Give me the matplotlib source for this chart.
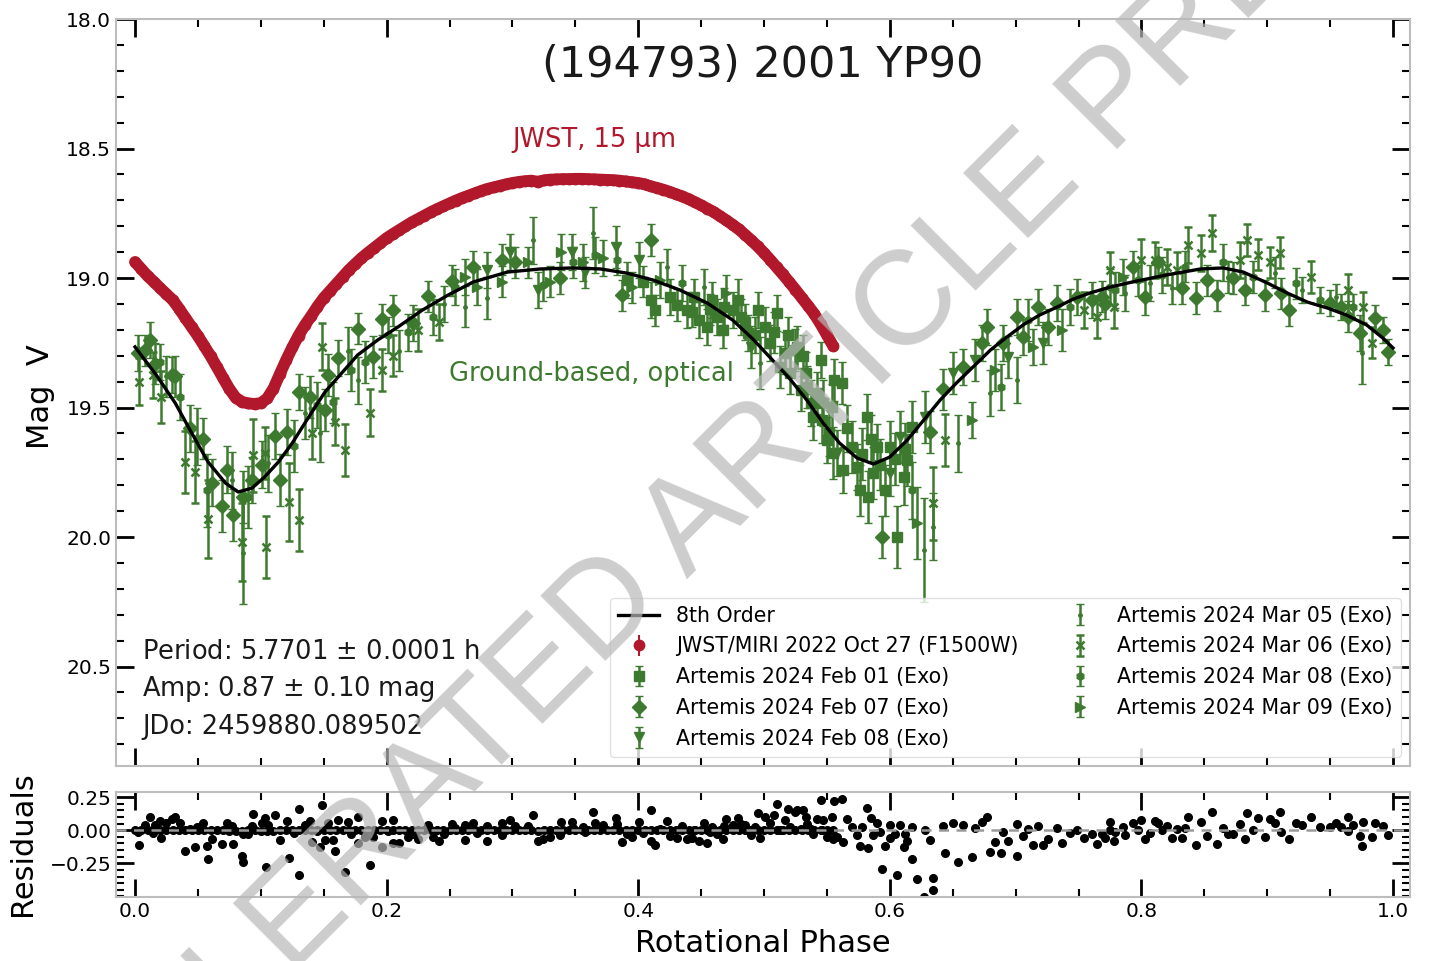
import numpy as np
import matplotlib
matplotlib.use("Agg")
import matplotlib.pyplot as plt
from matplotlib.ticker import MultipleLocator, FixedLocator

GREEN = "#3d7a2f"
RED = "#b2182b"

# ---------------- 8th-order Fourier fit to the optical light curve ----------------
fit_phase = [0.000, 0.018, 0.032, 0.045, 0.058, 0.072, 0.082, 0.093, 0.103, 0.114,
             0.125, 0.138, 0.151, 0.165, 0.177, 0.193, 0.209, 0.228, 0.248, 0.269,
             0.296, 0.322, 0.348, 0.370, 0.391, 0.412, 0.433, 0.455, 0.475, 0.491,
             0.507, 0.521, 0.534, 0.547, 0.560, 0.574, 0.587, 0.600, 0.614, 0.627,
             0.640, 0.653, 0.666, 0.680, 0.693, 0.706, 0.719, 0.733, 0.746, 0.759,
             0.775, 0.793, 0.820, 0.847, 0.865, 0.881, 0.900, 0.916, 0.932, 0.948,
             0.963, 0.979, 0.992, 1.000]
fit_mag = [19.266, 19.382, 19.483, 19.598, 19.710, 19.792, 19.826, 19.811, 19.768, 19.710,
           19.637, 19.537, 19.440, 19.363, 19.297, 19.239, 19.189, 19.125, 19.068, 19.015,
           18.977, 18.965, 18.961, 18.965, 18.981, 19.008, 19.046, 19.097, 19.162, 19.235,
           19.318, 19.392, 19.471, 19.560, 19.637, 19.695, 19.718, 19.691, 19.625, 19.548,
           19.471, 19.405, 19.344, 19.278, 19.228, 19.181, 19.143, 19.112, 19.081, 19.058,
           19.035, 19.015, 18.988, 18.965, 18.961, 18.977, 19.019, 19.058, 19.093, 19.116,
           19.143, 19.181, 19.232, 19.270]

# ---------------- JWST/MIRI F1500W photometry ----------------
jwst_phase = [0.000, 0.005, 0.010, 0.015, 0.020, 0.025, 0.030, 0.035, 0.040, 0.045,
              0.050, 0.055, 0.060, 0.065, 0.070, 0.075, 0.080, 0.085, 0.090, 0.095,
              0.100, 0.105, 0.110, 0.115, 0.120, 0.125, 0.130, 0.135, 0.140, 0.145,
              0.150, 0.155, 0.160, 0.165, 0.170, 0.175, 0.180, 0.185, 0.190, 0.195,
              0.200, 0.205, 0.210, 0.215, 0.220, 0.225, 0.230, 0.235, 0.240, 0.245,
              0.250, 0.255, 0.260, 0.265, 0.270, 0.275, 0.280, 0.285, 0.290, 0.295,
              0.300, 0.305, 0.310, 0.315, 0.320, 0.325, 0.330, 0.335, 0.340, 0.345,
              0.350, 0.355, 0.360, 0.365, 0.370, 0.375, 0.380, 0.385, 0.390, 0.395,
              0.400, 0.405, 0.410, 0.415, 0.420, 0.425, 0.430, 0.435, 0.440, 0.445,
              0.450, 0.455, 0.460, 0.465, 0.470, 0.475, 0.480, 0.485, 0.490, 0.495,
              0.500, 0.505, 0.510, 0.515, 0.520, 0.525, 0.530, 0.535, 0.540, 0.545,
              0.550, 0.555]
jwst_mag = [18.938, 18.965, 18.992, 19.015, 19.039, 19.062, 19.085, 19.118, 19.154, 19.189,
            19.224, 19.262, 19.301, 19.343, 19.386, 19.428, 19.462, 19.478, 19.484, 19.486,
            19.483, 19.465, 19.427, 19.372, 19.318, 19.268, 19.222, 19.182, 19.147, 19.110,
            19.077, 19.050, 19.023, 18.996, 18.969, 18.946, 18.923, 18.903, 18.884, 18.865,
            18.846, 18.830, 18.815, 18.800, 18.785, 18.772, 18.759, 18.746, 18.734, 18.723,
            18.712, 18.701, 18.691, 18.682, 18.673, 18.664, 18.656, 18.650, 18.644, 18.638,
            18.633, 18.629, 18.626, 18.624, 18.628, 18.623, 18.620, 18.619, 18.618, 18.618,
            18.617, 18.617, 18.618, 18.619, 18.620, 18.621, 18.622, 18.624, 18.627, 18.630,
            18.633, 18.638, 18.646, 18.652, 18.659, 18.667, 18.676, 18.685, 18.695, 18.707,
            18.719, 18.732, 18.745, 18.761, 18.777, 18.794, 18.812, 18.833, 18.855, 18.878,
            18.903, 18.930, 18.958, 18.986, 19.015, 19.045, 19.076, 19.107, 19.139, 19.178,
            19.220, 19.263]
jwst_err = 0.008

# ---------------- Artemis (ExoCam) optical photometry, one set per night ----------------
feb01_phase = [0.391, 0.404, 0.410, 0.413, 0.425, 0.431, 0.439, 0.443, 0.444, 0.448,
               0.455, 0.457, 0.459, 0.463, 0.467, 0.468, 0.475, 0.479, 0.482, 0.485,
               0.487, 0.493, 0.495, 0.501, 0.505, 0.508, 0.510, 0.513, 0.517, 0.519,
               0.521, 0.525, 0.526, 0.529, 0.531, 0.533, 0.534, 0.537, 0.539, 0.542,
               0.545, 0.546, 0.547, 0.550, 0.552, 0.554, 0.555, 0.556, 0.562, 0.563,
               0.566, 0.570, 0.574, 0.576, 0.578, 0.582, 0.583, 0.585, 0.587, 0.590,
               0.592, 0.596, 0.600, 0.604, 0.606, 0.611, 0.612, 0.614, 0.618]
feb01_mag = [19.008, 19.015, 19.085, 19.124, 19.073, 19.104, 19.124, 19.130, 19.073, 19.162,
             19.190, 19.120, 19.085, 19.150, 19.200, 19.110, 19.124, 19.085, 19.150, 19.170,
             19.212, 19.220, 19.124, 19.190, 19.250, 19.210, 19.135, 19.344, 19.290, 19.220,
             19.367, 19.278, 19.266, 19.432, 19.300, 19.367, 19.420, 19.483, 19.537, 19.444,
             19.317, 19.548, 19.483, 19.625, 19.598, 19.498, 19.676, 19.394, 19.405, 19.741,
             19.580, 19.653, 19.730, 19.820, 19.680, 19.537, 19.846, 19.620, 19.753, 19.653,
             19.720, 19.820, 19.653, 19.700, 20.000, 19.768, 19.660, 19.703, 19.575]
feb01_err = [0.07, 0.06, 0.07, 0.06, 0.07, 0.06, 0.07, 0.06, 0.07, 0.07,
             0.07, 0.06, 0.07, 0.07, 0.07, 0.07, 0.07, 0.08, 0.07, 0.07,
             0.07, 0.07, 0.07, 0.08, 0.07, 0.08, 0.07, 0.08, 0.08, 0.07,
             0.08, 0.08, 0.08, 0.08, 0.08, 0.08, 0.08, 0.09, 0.09, 0.08,
             0.07, 0.09, 0.09, 0.09, 0.09, 0.09, 0.10, 0.08, 0.08, 0.09,
             0.09, 0.10, 0.09, 0.10, 0.10, 0.09, 0.10, 0.09, 0.10, 0.09,
             0.10, 0.10, 0.10, 0.10, 0.12, 0.11, 0.10, 0.10, 0.10]

feb07_phase = [0.002, 0.008, 0.012, 0.016, 0.029, 0.032, 0.044, 0.054, 0.061, 0.069,
               0.073, 0.078, 0.086, 0.093, 0.101, 0.111, 0.115, 0.121, 0.130, 0.139,
               0.151, 0.153, 0.161, 0.177, 0.189, 0.196, 0.205, 0.221, 0.233, 0.252,
               0.269, 0.292, 0.302, 0.338, 0.387, 0.410, 0.594, 0.632, 0.642, 0.658,
               0.673, 0.677, 0.690, 0.701, 0.706, 0.718, 0.726, 0.733, 0.749, 0.761,
               0.769, 0.771, 0.793, 0.803, 0.813, 0.832, 0.843, 0.852, 0.860, 0.873,
               0.882, 0.898, 0.911, 0.917, 0.950, 0.959, 0.964, 0.974, 0.986, 0.992,
               0.996]
feb07_mag = [19.290, 19.278, 19.240, 19.330, 19.375, 19.380, 19.580, 19.620, 19.790, 19.880,
             19.740, 19.915, 19.845, 19.780, 19.720, 19.610, 19.780, 19.595, 19.440, 19.460,
             19.510, 19.375, 19.310, 19.195, 19.305, 19.160, 19.125, 19.175, 19.070, 19.010,
             18.957, 18.930, 18.940, 19.000, 19.066, 18.853, 20.000, 19.595, 19.430, 19.344,
             19.250, 19.190, 19.250, 19.150, 19.228, 19.112, 19.190, 19.097, 19.073, 19.085,
             19.073, 19.100, 18.957, 19.073, 18.940, 19.040, 19.077, 19.008, 19.066, 19.000,
             19.046, 19.066, 19.058, 19.124, 19.097, 19.112, 19.150, 19.212, 19.154, 19.200,
             19.285]
feb07_err = [0.07, 0.06, 0.07, 0.08, 0.07, 0.08, 0.09, 0.08, 0.09, 0.10,
             0.09, 0.10, 0.10, 0.09, 0.09, 0.09, 0.10, 0.09, 0.07, 0.08,
             0.08, 0.08, 0.07, 0.06, 0.08, 0.06, 0.06, 0.07, 0.06, 0.06,
             0.06, 0.06, 0.06, 0.06, 0.06, 0.06, 0.08, 0.08, 0.08, 0.07,
             0.07, 0.07, 0.07, 0.07, 0.07, 0.07, 0.07, 0.07, 0.07, 0.07,
             0.06, 0.06, 0.06, 0.07, 0.06, 0.06, 0.06, 0.06, 0.06, 0.06,
             0.06, 0.06, 0.06, 0.06, 0.05, 0.05, 0.06, 0.07, 0.05, 0.05,
             0.05]

feb08_phase = [0.280, 0.298, 0.320, 0.347, 0.358, 0.382, 0.401, 0.490, 0.558, 0.600,
               0.608, 0.628, 0.650, 0.668, 0.694, 0.722]
feb08_mag = [18.970, 18.900, 19.045, 18.900, 18.977, 18.880, 18.930, 19.266, 19.676, 19.753,
             19.614, 19.537, 19.367, 19.317, 19.305, 19.250]
feb08_err = [0.07, 0.07, 0.07, 0.07, 0.06, 0.08, 0.07, 0.08, 0.09, 0.09,
             0.10, 0.10, 0.08, 0.08, 0.08, 0.08]

mar05_phase = [0.025, 0.049, 0.077, 0.086, 0.106, 0.135, 0.147, 0.169, 0.177, 0.210,
               0.246, 0.262, 0.280, 0.316, 0.364, 0.423, 0.452, 0.497, 0.627, 0.634,
               0.654, 0.680, 0.701, 0.787, 0.807, 0.824, 0.869, 0.906, 0.928, 0.955,
               0.975]
mar05_mag = [19.380, 19.610, 19.780, 20.060, 19.715, 19.520, 19.600, 19.280, 19.395, 19.280,
             19.100, 19.110, 19.077, 18.855, 18.826, 18.957, 19.035, 19.328, 20.050, 19.960,
             19.637, 19.444, 19.394, 19.058, 19.020, 19.040, 18.996, 18.980, 19.046, 19.073,
             19.290]
mar05_err = [0.08, 0.11, 0.11, 0.20, 0.11, 0.10, 0.11, 0.09, 0.09, 0.08,
             0.07, 0.08, 0.08, 0.09, 0.10, 0.07, 0.07, 0.10, 0.20, 0.13,
             0.11, 0.09, 0.09, 0.07, 0.07, 0.06, 0.06, 0.06, 0.05, 0.05,
             0.12]

mar06_phase = [0.003, 0.014, 0.021, 0.040, 0.048, 0.058, 0.085, 0.094, 0.103, 0.104,
               0.122, 0.130, 0.141, 0.149, 0.159, 0.167, 0.187, 0.196, 0.205, 0.225,
               0.242, 0.634, 0.644, 0.754, 0.765, 0.775, 0.778, 0.800, 0.811, 0.820,
               0.828, 0.837, 0.847, 0.856, 0.878, 0.884, 0.893, 0.902, 0.910, 0.935,
               0.964, 0.976, 0.983]
mar06_mag = [19.400, 19.375, 19.460, 19.710, 19.750, 19.930, 20.020, 19.685, 19.675, 20.040,
             19.865, 19.935, 19.600, 19.265, 19.555, 19.665, 19.520, 19.355, 19.300, 19.200,
             19.170, 19.870, 19.625, 19.124, 19.150, 18.970, 19.112, 18.930, 18.930, 18.957,
             18.970, 18.873, 18.903, 18.826, 18.930, 18.853, 18.910, 18.940, 18.903, 18.996,
             19.046, 19.112, 19.250]
mar06_err = [0.09, 0.09, 0.10, 0.12, 0.12, 0.15, 0.15, 0.14, 0.10, 0.12,
             0.15, 0.12, 0.10, 0.09, 0.09, 0.10, 0.09, 0.08, 0.08, 0.08,
             0.07, 0.14, 0.10, 0.07, 0.08, 0.07, 0.08, 0.08, 0.07, 0.07,
             0.07, 0.07, 0.07, 0.07, 0.07, 0.06, 0.06, 0.06, 0.06, 0.06,
             0.06, 0.06, 0.06]

mar08_phase = [0.020, 0.036, 0.057, 0.090, 0.126, 0.145, 0.157, 0.172, 0.183, 0.201,
               0.217, 0.237, 0.254, 0.324, 0.348, 0.366, 0.383, 0.435, 0.618, 0.688,
               0.710, 0.743, 0.775, 0.779, 0.797, 0.816, 0.835, 0.865, 0.889, 0.923,
               0.942, 0.968]
mar08_mag = [19.325, 19.460, 19.820, 19.845, 19.650, 19.490, 19.480, 19.355, 19.325, 19.220,
             19.210, 19.150, 19.035, 19.027, 18.940, 18.910, 18.930, 19.020, 19.820, 19.420,
             19.162, 19.112, 19.035, 19.046, 19.008, 18.988, 18.957, 18.940, 18.996, 19.020,
             19.085, 19.112]
mar08_err = [0.07, 0.09, 0.14, 0.12, 0.10, 0.09, 0.08, 0.08, 0.08, 0.07,
             0.07, 0.07, 0.07, 0.06, 0.06, 0.07, 0.06, 0.07, 0.11, 0.09,
             0.08, 0.07, 0.07, 0.07, 0.06, 0.07, 0.06, 0.07, 0.06, 0.06,
             0.05, 0.05]

mar09_phase = [0.262, 0.272, 0.292, 0.312, 0.330, 0.339, 0.356, 0.372, 0.395, 0.417,
               0.470, 0.622, 0.665, 0.684, 0.714, 0.737, 0.785]
mar09_mag = [18.996, 19.035, 19.015, 18.940, 19.015, 18.900, 18.940, 18.923, 19.035, 19.008,
             19.058, 19.946, 19.548, 19.355, 19.266, 19.200, 18.996]
mar09_err = [0.07, 0.07, 0.06, 0.06, 0.06, 0.07, 0.07, 0.07, 0.06, 0.07,
             0.07, 0.14, 0.07, 0.08, 0.07, 0.08, 0.07]

night_labels = ["Artemis 2024 Feb 01 (Exo)", "Artemis 2024 Feb 07 (Exo)",
                "Artemis 2024 Feb 08 (Exo)", "Artemis 2024 Mar 05 (Exo)",
                "Artemis 2024 Mar 06 (Exo)", "Artemis 2024 Mar 08 (Exo)",
                "Artemis 2024 Mar 09 (Exo)"]
nights = [
    (feb01_phase, feb01_mag, feb01_err),
    (feb07_phase, feb07_mag, feb07_err),
    (feb08_phase, feb08_mag, feb08_err),
    (mar05_phase, mar05_mag, mar05_err),
    (mar06_phase, mar06_mag, mar06_err),
    (mar08_phase, mar08_mag, mar08_err),
    (mar09_phase, mar09_mag, mar09_err),
]
night_markers = ["s", "D", "v", ".", "x", "h", ">"]
night_msize = [6.5, 7.5, 7, 5, 6, 5.5, 7]

# ---------------- figure layout ----------------
fig = plt.figure(figsize=(14.29, 9.61), dpi=100)
ax = fig.add_axes([0.0812, 0.2029, 0.9055, 0.7773])
axr = fig.add_axes([0.0812, 0.0666, 0.9055, 0.1093])

XLIM = (-0.0151, 1.0135)

# optical nights
night_handles = []
for (ph, mg, er), lab, mk, ms in zip(nights, night_labels, night_markers, night_msize):
    h = ax.errorbar(ph, mg, yerr=er, fmt=mk, ms=ms, color=GREEN, ecolor=GREEN,
                    mec=GREEN, mew=1.8 if mk == "x" else 1.0,
                    elinewidth=1.8, capsize=3, capthick=1.6, label=lab, zorder=2)
    night_handles.append(h)

# JWST points: the dense time series merges into a continuous band
ax.plot(jwst_phase, jwst_mag, color=RED, lw=8.5, solid_capstyle="round",
        solid_joinstyle="round", zorder=3)
jw_handle = ax.errorbar(jwst_phase, jwst_mag, yerr=jwst_err, fmt="o", ms=8.5,
                        mew=0, color=RED, ecolor=RED, elinewidth=1.5, capsize=2.5,
                        label="JWST/MIRI 2022 Oct 27 (F1500W)", zorder=3)

# fit curve
fit_line, = ax.plot(fit_phase, fit_mag, color="black", lw=2.4, zorder=4,
                    label="8th Order")

ax.set_xlim(*XLIM)
ax.set_ylim(20.884, 18.0)

ax.text(0.5, 0.938, "(194793) 2001 YP90", transform=ax.transAxes,
        ha="center", va="center", fontsize=31, color="#1a1a1a")
ax.text(0.365, 18.467, "JWST, 15 µm", ha="center", va="center",
        fontsize=18.5, color=RED)
ax.text(0.363, 19.371, "Ground-based, optical", ha="center", va="center",
        fontsize=18.5, color=GREEN)

info = [r"Period: 5.7701 $\pm$ 0.0001 h",
        r"Amp: 0.87 $\pm$ 0.10 mag",
        "JDo: 2459880.089502"]
for txt, yy in zip(info, [0.1526, 0.1030, 0.0522]):
    ax.text(0.0200, yy, txt, transform=ax.transAxes, ha="left", va="center",
            fontsize=18.5, color="#1a1a1a")

handles = [fit_line, jw_handle] + night_handles
labels = [h.get_label() for h in handles]
leg = ax.legend(handles, labels, loc="lower right", ncol=2, fontsize=14.8,
                labelspacing=0.52, framealpha=0.8, edgecolor="#d9d9d9",
                borderaxespad=0.45)
leg.set_zorder(6)

ax.set_ylabel("Mag  V", fontsize=22)
ax.yaxis.label.set_va("center")
ax.yaxis.set_label_coords(-0.0587, 0.494)

# ---------------- residual panel ----------------
fit_p = np.array(fit_phase)
fit_m = np.array(fit_mag)
all_ph = np.concatenate([np.array(n[0]) for n in nights])
all_mg = np.concatenate([np.array(n[1]) for n in nights])
opt_res = np.interp(all_ph, fit_p, fit_m) - all_mg

jw_m = np.array(jwst_mag)
smooth = np.convolve(jw_m, np.ones(3) / 3.0, mode="same")
smooth[0], smooth[-1] = jw_m[0], jw_m[-1]
jw_res = smooth - jw_m

axr.plot(jwst_phase, jw_res, "o", color="black", ms=5.5, zorder=2)
axr.plot(all_ph, opt_res, "o", color="black", ms=5.5, zorder=2)
axr.axhline(0, color="#9a9a9a", lw=1.8, ls=(0, (4, 3)), zorder=3)

axr.set_xlim(*XLIM)
axr.set_ylim(-0.505, 0.29)
axr.yaxis.set_major_locator(FixedLocator([-0.25, 0.0, 0.25]))
axr.yaxis.set_major_formatter(plt.FuncFormatter(lambda v, p: f"{v:.2f}".replace("-", "\u2212")))
axr.yaxis.set_minor_locator(MultipleLocator(0.05))
axr.set_ylabel("Residuals", fontsize=22)
axr.yaxis.label.set_va("center")
axr.yaxis.set_label_coords(-0.0726, 0.51)
axr.set_xlabel("Rotational Phase", fontsize=22)
axr.xaxis.label.set_va("center")
axr.xaxis.set_label_coords(0.5, -0.44)

# ---------------- ticks & frames ----------------
for a in (ax, axr):
    a.xaxis.set_major_locator(MultipleLocator(0.2))
    a.xaxis.set_minor_locator(MultipleLocator(0.05))
    a.tick_params(which="both", direction="in", top=True, right=True,
                  labelsize=14.5, color="black")
    a.tick_params(which="major", length=13, width=2)
    a.tick_params(which="minor", length=6, width=1.5)
    for s in a.spines.values():
        s.set_color("#bdbdbd")
        s.set_linewidth(1.5)
ax.yaxis.set_major_locator(MultipleLocator(0.5))
ax.yaxis.set_minor_locator(MultipleLocator(0.1))
ax.tick_params(labelbottom=False)

# preview watermark
fig.text(0.515, 0.4995, "ACCELERATED ARTICLE PREVIEW", rotation=45,
         fontsize=96, family="Liberation Sans", color="#b8b8b8", alpha=0.7,
         ha="center", va="center", rotation_mode="anchor", zorder=10)

fig.savefig("out.png", dpi=100)
